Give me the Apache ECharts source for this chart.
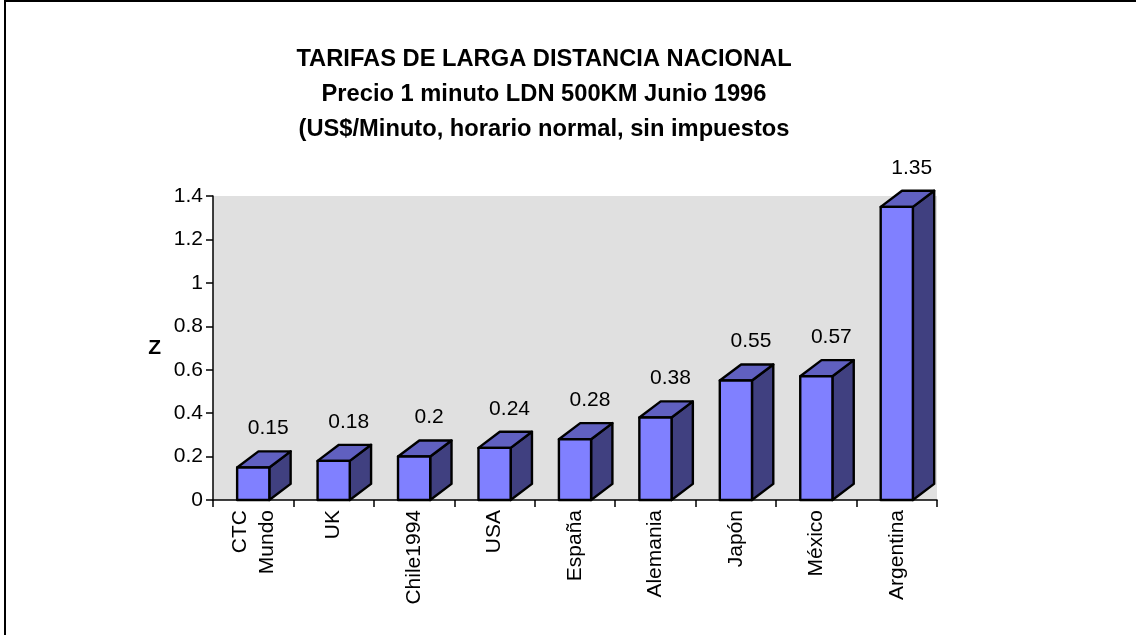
<!DOCTYPE html>
<html>
<head>
<meta charset="utf-8">
<script src="https://cdn.jsdelivr.net/npm/echarts@6/dist/echarts.min.js"></script>
<style>html,body{margin:0;padding:0;background:#fff}#c{width:1136px;height:635px}</style>
</head>
<body>
<div id="c"></div>
<script>
const categories = ['CTC\nMundo', 'UK', 'Chile1994', 'USA', 'España', 'Alemania', 'Japón', 'México', 'Argentina'];
const values = [0.15, 0.18, 0.2, 0.24, 0.28, 0.38, 0.55, 0.57, 1.35];
const yTicks = [0, 0.2, 0.4, 0.6, 0.8, 1, 1.2, 1.4];
const titleLines = ['TARIFAS DE LARGA DISTANCIA NACIONAL', 'Precio 1 minuto LDN 500KM Junio 1996', '(US$/Minuto, horario normal, sin impuestos'];
const yName = 'Z';

const FONT = '"Liberation Sans", Arial, sans-serif';
const chart = echarts.init(document.getElementById('c'), null, {renderer: 'canvas'});

function renderItem(params, api) {
  const idx = api.value(0);
  const v = api.value(1);
  const base = api.coord([idx, 0]);
  const top = api.coord([idx, v]);
  const bw = api.size([1, 0])[0];
  const fw = bw * 0.4;
  const dx = bw * 0.265;
  const dy = bw * 0.2;
  const L = base[0] - fw / 2, R = base[0] + fw / 2;
  const ty = top[1], by = base[1];
  const stroke = {stroke: '#000', lineWidth: 2.4, lineJoin: 'round'};
  return {
    type: 'group',
    children: [
      {type: 'polygon', shape: {points: [[R, ty], [R + dx, ty - dy], [R + dx, by - dy], [R, by]]}, style: Object.assign({fill: '#404080'}, stroke)},
      {type: 'polygon', shape: {points: [[L, ty], [L + dx, ty - dy], [R + dx, ty - dy], [R, ty]]}, style: Object.assign({fill: '#6060C0'}, stroke)},
      {type: 'rect', shape: {x: L, y: ty, width: fw, height: by - ty}, style: Object.assign({fill: '#8080FF'}, stroke)},
      {type: 'text', style: {x: base[0] + 15, y: ty - 39, text: String(v), fill: '#000', font: '21px ' + FONT, textAlign: 'center', textVerticalAlign: 'middle'}}
    ]
  };
}

chart.setOption({
  animation: false,
  backgroundColor: '#fff',
  title: {
    text: titleLines.join('\n'),
    left: 539, top: 37, textAlign: 'center',
    textStyle: {fontFamily: FONT, fontSize: 23.7, fontWeight: 'bold', color: '#000', lineHeight: 35}
  },
  graphic: [{
    type: 'rect', z: 100,
    shape: {x: 5, y: 1, width: 1300, height: 800},
    style: {fill: 'none', stroke: '#000', lineWidth: 2}
  }],
  grid: {left: 213, right: 199, top: 196, bottom: 135, show: true, backgroundColor: '#E0E0E0', borderWidth: 0},
  xAxis: {
    type: 'category', data: categories,
    axisLine: {show: true, lineStyle: {color: '#000', width: 1.5}},
    axisTick: {show: true, length: 7, lineStyle: {color: '#000', width: 1.5}},
    axisLabel: {rotate: 90, margin: 10, color: '#000', fontFamily: FONT, fontSize: 21, lineHeight: 27, interval: 0},
    splitLine: {show: false}
  },
  yAxis: {
    type: 'value', min: 0, max: 1.4, interval: 0.2,
    name: yName, nameLocation: 'middle', nameRotate: 0, nameGap: 52,
    nameTextStyle: {fontFamily: FONT, fontSize: 21, fontWeight: 'bold', color: '#000'},
    axisLine: {show: true, lineStyle: {color: '#000', width: 1.5}},
    axisTick: {show: true, length: 7, lineStyle: {color: '#000', width: 1.5}},
    axisLabel: {margin: 10, color: '#000', fontFamily: FONT, fontSize: 21,
      formatter: function (v) { const t = yTicks.find(x => Math.abs(x - v) < 1e-6); return t === undefined ? '' : String(t); }},
    splitLine: {show: false}
  },
  series: [{
    type: 'custom',
    renderItem: renderItem,
    clip: false,
    data: values.map((v, i) => [i, v]),
    z: 10
  }]
});
</script>
</body>
</html>
